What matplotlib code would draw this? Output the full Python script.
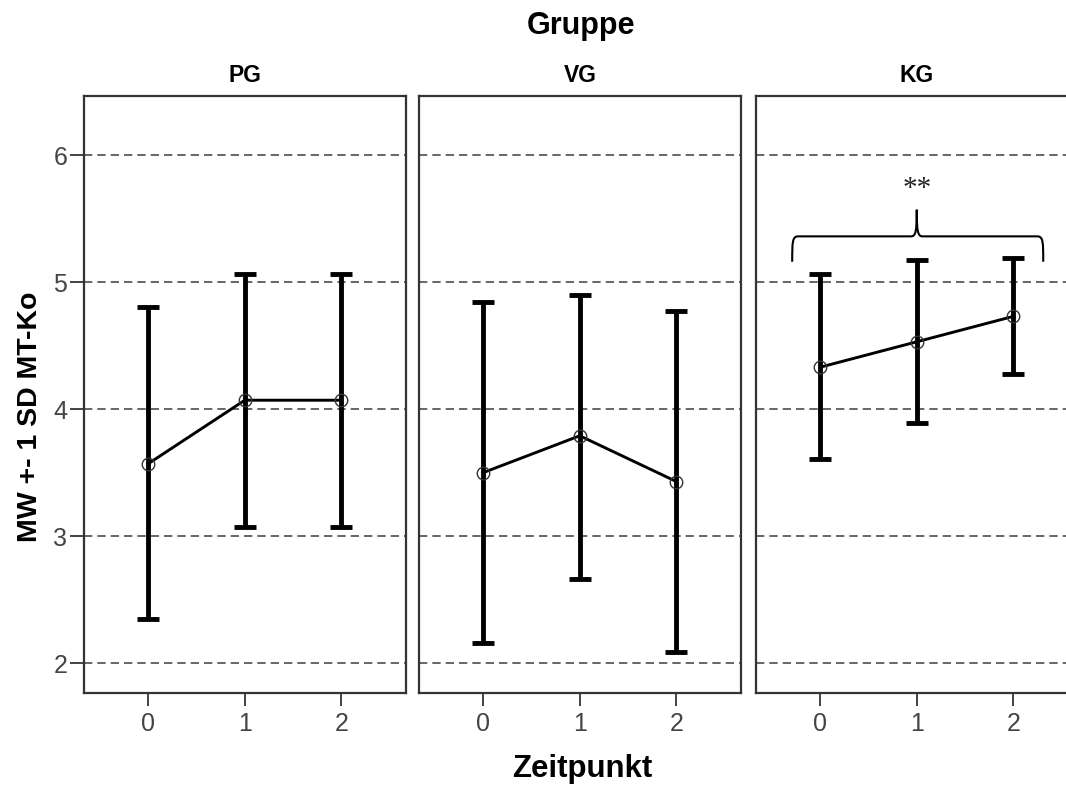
import numpy as np
import matplotlib
matplotlib.use("Agg")
import matplotlib.pyplot as plt
from matplotlib.path import Path
from matplotlib.patches import PathPatch

plt.rcParams['font.family'] = ['Liberation Sans', 'DejaVu Sans']

groups = ['PG', 'VG', 'KG']
zeitpunkt = [0, 1, 2]
means = {
    'PG': [3.57, 4.07, 4.07],
    'VG': [3.50, 3.79, 3.43],
    'KG': [4.33, 4.53, 4.73],
}
upper = {
    'PG': [4.80, 5.06, 5.06],
    'VG': [4.84, 4.90, 4.77],
    'KG': [5.06, 5.17, 5.19],
}
lower = {
    'PG': [2.35, 3.07, 3.07],
    'VG': [2.16, 2.66, 2.09],
    'KG': [3.61, 3.89, 4.28],
}
y_ticks = [2, 3, 4, 5, 6]
sig_label = '**'

W, H = 1066, 787
fig = plt.figure(figsize=(W / 100, H / 100), dpi=100)

lefts = [84, 419, 756]
bottom = (H - 693) / H
height = 597 / H
width = 322 / W

dark = '#222222'
axes = []
for i, g in enumerate(groups):
    ax = fig.add_axes([lefts[i] / W, bottom, width, height])
    axes.append(ax)
    for yv in y_ticks:
        ax.axhline(yv, color='#4d4d4d', lw=1.2, ls=(0, (5, 3)), zorder=1)
    m = np.array(means[g])
    lo = m - np.array(lower[g])
    hi = np.array(upper[g]) - m
    ax.errorbar(zeitpunkt, m, yerr=[lo, hi], fmt='none', ecolor='black',
                elinewidth=3.5, capsize=8, capthick=3.5, zorder=3)
    ax.plot(zeitpunkt, m, color='black', lw=2.1, zorder=4)
    ax.plot(zeitpunkt, m, ls='none', marker='o', ms=9, mfc='none',
            mec='#333333', mew=1.0, zorder=5)
    ax.set_xlim(-0.665, 2.67)
    ax.set_ylim(1.765, 6.465)
    ax.set_xticks(zeitpunkt)
    ax.set_xticklabels([str(z) for z in zeitpunkt])
    ax.set_yticks(y_ticks)
    ax.tick_params(axis='x', length=9, width=1.2, color=dark, pad=5,
                   labelsize=18, labelcolor='#444444')
    if i == 0:
        ax.tick_params(axis='y', length=10, width=1.2, color=dark, pad=2,
                       labelsize=18, labelcolor='#444444')
    else:
        ax.tick_params(axis='y', left=False, labelleft=False)
    for s in ax.spines.values():
        s.set_color('#333333')
        s.set_linewidth(1.6)
    fig.text((lefts[i] + 161) / W, 1 - 75 / H, g, ha='center', va='center',
             fontsize=16.5, fontweight='bold')

# bracket with significance over KG
ax = axes[2]
x0, x1, xc = -0.29, 2.31, 1.0
yb, yh, yp = 5.16, 5.36, 5.57
dx = 0.06
verts = [
    (x0, yb), (x0, yh - 0.05), (x0, yh), (x0 + dx, yh),
    (xc - dx, yh), (xc - 0.01, yh), (xc, yh + 0.04), (xc, yp),
    (xc, yh + 0.04), (xc + 0.01, yh), (xc + dx, yh),
    (x1 - dx, yh), (x1, yh), (x1, yh - 0.05), (x1, yb),
]
codes = [Path.MOVETO, Path.CURVE4, Path.CURVE4, Path.CURVE4,
         Path.LINETO, Path.CURVE4, Path.CURVE4, Path.CURVE4,
         Path.CURVE4, Path.CURVE4, Path.CURVE4,
         Path.LINETO, Path.CURVE4, Path.CURVE4, Path.CURVE4]
ax.add_patch(PathPatch(Path(verts, codes), fill=False, lw=1.5,
                       edgecolor='black', zorder=6))
ax.text(xc, 5.73, sig_label, ha='center', va='center', fontsize=21,
        family=['Liberation Serif', 'DejaVu Serif'], color='#222222')

fig.text(581 / W, 1 - 26 / H, 'Gruppe', ha='center', va='center',
         fontsize=22, fontweight='bold')
fig.text(582 / W, 1 - 769 / H, 'Zeitpunkt', ha='center', va='center',
         fontsize=22.5, fontweight='bold')
fig.text(30 / W, 1 - 417 / H, 'MW +- 1 SD MT-Ko', ha='center', va='center',
         rotation=90, fontsize=20.5, fontweight='bold')

fig.savefig('out.png', dpi=100)
